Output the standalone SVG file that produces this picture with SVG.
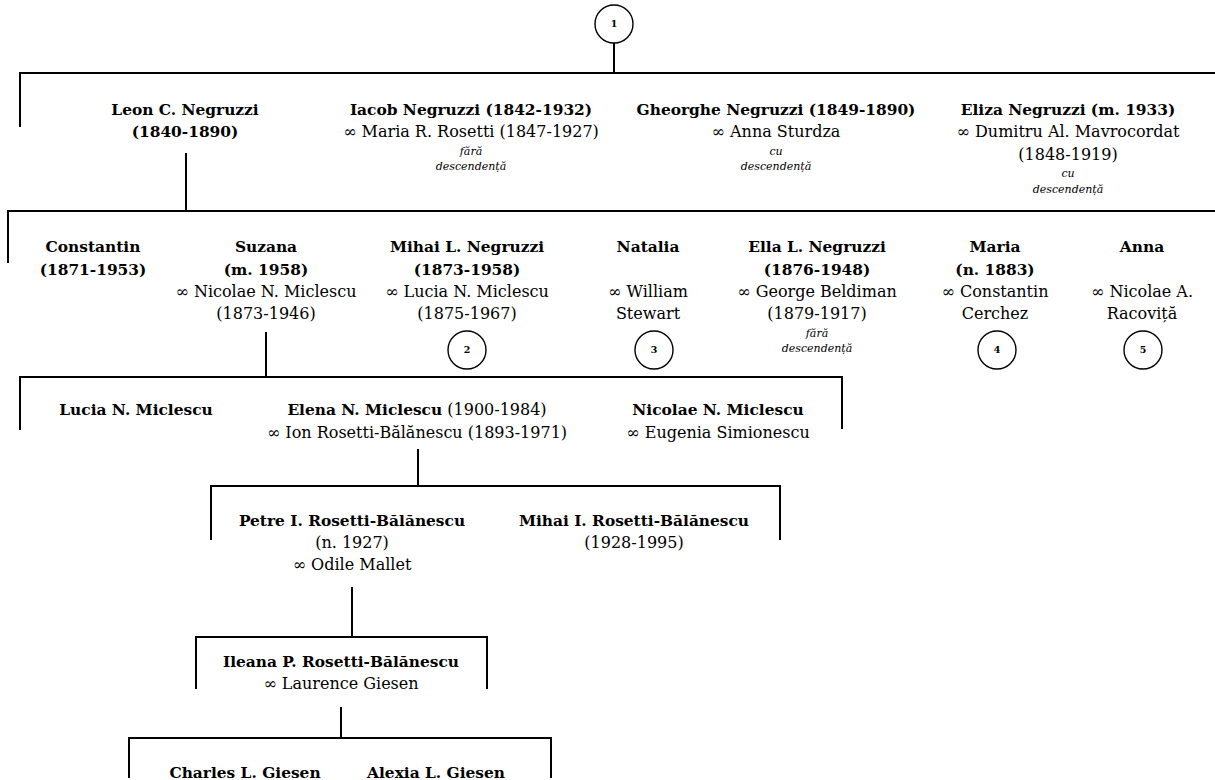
<svg xmlns="http://www.w3.org/2000/svg" width="1215" height="780" viewBox="0 0 1215 780">
<style>
text{font-family:"DejaVu Serif","Liberation Serif",serif;font-size:16px;fill:#000;text-anchor:middle}
.b{font-weight:bold;font-size:15.4px}
.i{font-style:italic;font-size:11px}
.n{font-weight:bold;font-size:9.5px}
.c{fill:#fff;stroke:#000;stroke-width:1.4}
#connectors path{stroke:#000;stroke-width:2;fill:none}
</style>
<rect width="1215" height="780" fill="#fff"/>
<g id="connectors">
<path d="M614 43V73M20 127V73H1215"/>
<path d="M186 153V211M8 263V211H1215"/>
<path d="M266 332V377M20 430V377H842V429"/>
<path d="M418 449V486M211 540V486H780V540"/>
<path d="M352 587V637M196 689V637H487V689"/>
<path d="M341 707V738M129 778V738H551V778"/>
</g>
<g id="m1"><circle class="c" cx="614" cy="24" r="19"/><text class="n" x="614" y="27">1</text></g>
<g id="leon"><text class="b" x="185" y="115">Leon C. Negruzzi</text><text class="b" x="185" y="137">(1840-1890)</text></g>
<g id="iacob"><text class="b" x="471" y="115">Iacob Negruzzi (1842-1932)</text><text x="471" y="137">∞ Maria R. Rosetti (1847-1927)</text><text class="i" x="471" y="155">fără</text><text class="i" x="471" y="170">descendență</text></g>
<g id="gheorghe"><text class="b" x="776" y="115">Gheorghe Negruzzi (1849-1890)</text><text x="776" y="137">∞ Anna Sturdza</text><text class="i" x="776" y="155">cu</text><text class="i" x="776" y="170">descendență</text></g>
<g id="eliza"><text class="b" x="1068" y="115">Eliza Negruzzi (m. 1933)</text><text x="1068" y="137">∞ Dumitru Al. Mavrocordat</text><text x="1068" y="160">(1848-1919)</text><text class="i" x="1068" y="177">cu</text><text class="i" x="1068" y="193">descendență</text></g>
<g id="constantin"><text class="b" x="93" y="252">Constantin</text><text class="b" x="93" y="275">(1871-1953)</text></g>
<g id="suzana"><text class="b" x="266" y="252">Suzana</text><text class="b" x="266" y="275">(m. 1958)</text><text x="266" y="297">∞ Nicolae N. Miclescu</text><text x="266" y="319">(1873-1946)</text></g>
<g id="mihai"><text class="b" x="467" y="252">Mihai L. Negruzzi</text><text class="b" x="467" y="275">(1873-1958)</text><text x="467" y="297">∞ Lucia N. Miclescu</text><text x="467" y="319">(1875-1967)</text><circle class="c" cx="467" cy="350" r="19"/><text class="n" x="467" y="353">2</text></g>
<g id="natalia"><text class="b" x="648" y="252">Natalia</text><text x="648" y="297">∞ William</text><text x="648" y="319">Stewart</text><circle class="c" cx="654" cy="350" r="19"/><text class="n" x="654" y="353">3</text></g>
<g id="ella"><text class="b" x="817" y="252">Ella L. Negruzzi</text><text class="b" x="817" y="275">(1876-1948)</text><text x="817" y="297">∞ George Beldiman</text><text x="817" y="319">(1879-1917)</text><text class="i" x="817" y="337">fără</text><text class="i" x="817" y="352">descendență</text></g>
<g id="maria"><text class="b" x="995" y="252">Maria</text><text class="b" x="995" y="275">(n. 1883)</text><text x="995" y="297">∞ Constantin</text><text x="995" y="319">Cerchez</text><circle class="c" cx="997" cy="350" r="19"/><text class="n" x="997" y="353">4</text></g>
<g id="anna"><text class="b" x="1142" y="252">Anna</text><text x="1142" y="297">∞ Nicolae A.</text><text x="1142" y="319">Racoviță</text><circle class="c" cx="1143" cy="350" r="19"/><text class="n" x="1143" y="353">5</text></g>
<g id="lucia"><text class="b" x="136" y="415">Lucia N. Miclescu</text></g>
<g id="elena"><text x="417" y="415"><tspan class="b">Elena N. Miclescu</tspan> (1900-1984)</text><text x="417" y="438">∞ Ion Rosetti-Bălănescu (1893-1971)</text></g>
<g id="nicolae"><text class="b" x="718" y="415">Nicolae N. Miclescu</text><text x="718" y="438">∞ Eugenia Simionescu</text></g>
<g id="petre"><text class="b" x="352" y="526">Petre I. Rosetti-Bălănescu</text><text x="352" y="548">(n. 1927)</text><text x="352" y="570">∞ Odile Mallet</text></g>
<g id="mihaiI"><text class="b" x="634" y="526">Mihai I. Rosetti-Bălănescu</text><text x="634" y="548">(1928-1995)</text></g>
<g id="ileana"><text class="b" x="341" y="667">Ileana P. Rosetti-Bălănescu</text><text x="341" y="689">∞ Laurence Giesen</text></g>
<g id="charles"><text class="b" x="245" y="778">Charles L. Giesen</text></g>
<g id="alexia"><text class="b" x="436" y="778">Alexia L. Giesen</text></g>
</svg>
